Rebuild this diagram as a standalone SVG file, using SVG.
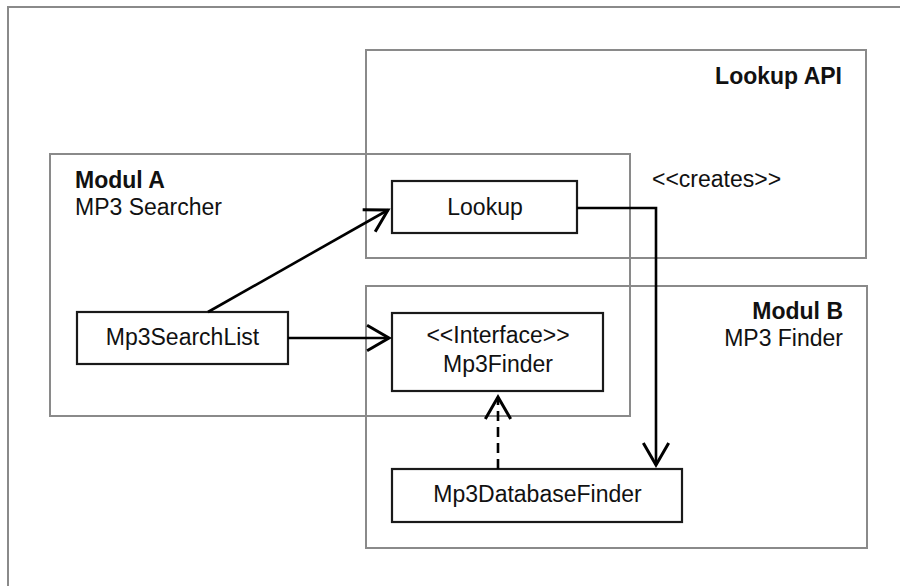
<svg xmlns="http://www.w3.org/2000/svg" width="900" height="586" viewBox="0 0 900 586">
<defs>
<style>
.frame{fill:none;stroke:#8a8a8a;stroke-width:2}
.cont{fill:none;stroke:#8a8a8a;stroke-width:2}
.node{fill:#fff;stroke:#1a1a1a;stroke-width:2.2}
.t{font-family:"Liberation Sans",Arial,sans-serif;font-size:23px;fill:#111}
.b{font-weight:bold}
.c{text-anchor:middle}
.e{text-anchor:end}
.conn{fill:none;stroke:#000;stroke-width:2.6}
.dash{stroke-dasharray:10,6}
</style>
<marker id="open" markerUnits="userSpaceOnUse" markerWidth="30" markerHeight="30" viewBox="-22 -13 26 26" refX="0" refY="0" orient="auto">
<path d="M-19,-11 L0,0 L-19,11" fill="none" stroke="#000" stroke-width="2.6"/>
</marker>
</defs>
<rect width="900" height="586" fill="#fff"/>
<rect class="frame" x="8" y="7" width="905" height="600"/>
<g id="lookup-api">
<rect class="cont" x="366" y="50" width="500" height="208"/>
<text class="t b e" x="842" y="84">Lookup API</text>
</g>
<g id="modul-a">
<rect class="cont" x="50" y="154" width="580" height="262"/>
<text class="t b" x="75" y="188">Modul A</text>
<text class="t" x="75" y="215">MP3 Searcher</text>
</g>
<g id="modul-b">
<rect class="cont" x="366" y="286" width="501" height="262"/>
<text class="t b e" x="843" y="319">Modul B</text>
<text class="t e" x="843" y="346">MP3 Finder</text>
</g>
<g id="lookup">
<rect class="node" x="392" y="181" width="185" height="52"/>
<text class="t c" x="485" y="215">Lookup</text>
</g>
<g id="mp3searchlist">
<rect class="node" x="77" y="312" width="211" height="52"/>
<text class="t c" x="182.5" y="345">Mp3SearchList</text>
</g>
<g id="mp3finder">
<rect class="node" x="392" y="313" width="211" height="78"/>
<text class="t c" x="498" y="343">&lt;&lt;Interface&gt;&gt;</text>
<text class="t c" x="498" y="372">Mp3Finder</text>
</g>
<g id="mp3databasefinder">
<rect class="node" x="392" y="469" width="290" height="53"/>
<text class="t c" x="537.5" y="502">Mp3DatabaseFinder</text>
</g>
<g id="connectors">
<path class="conn" d="M208,312 L388,210" marker-end="url(#open)"/>
<path class="conn" d="M288,338 L389,338" marker-end="url(#open)"/>
<path class="conn" d="M577,208 L656,208 L656,465" marker-end="url(#open)"/>
<path class="conn dash" d="M498,469 L498,397" marker-end="url(#open)"/>
<text class="t" x="652" y="187">&lt;&lt;creates&gt;&gt;</text>
</g>
</svg>
